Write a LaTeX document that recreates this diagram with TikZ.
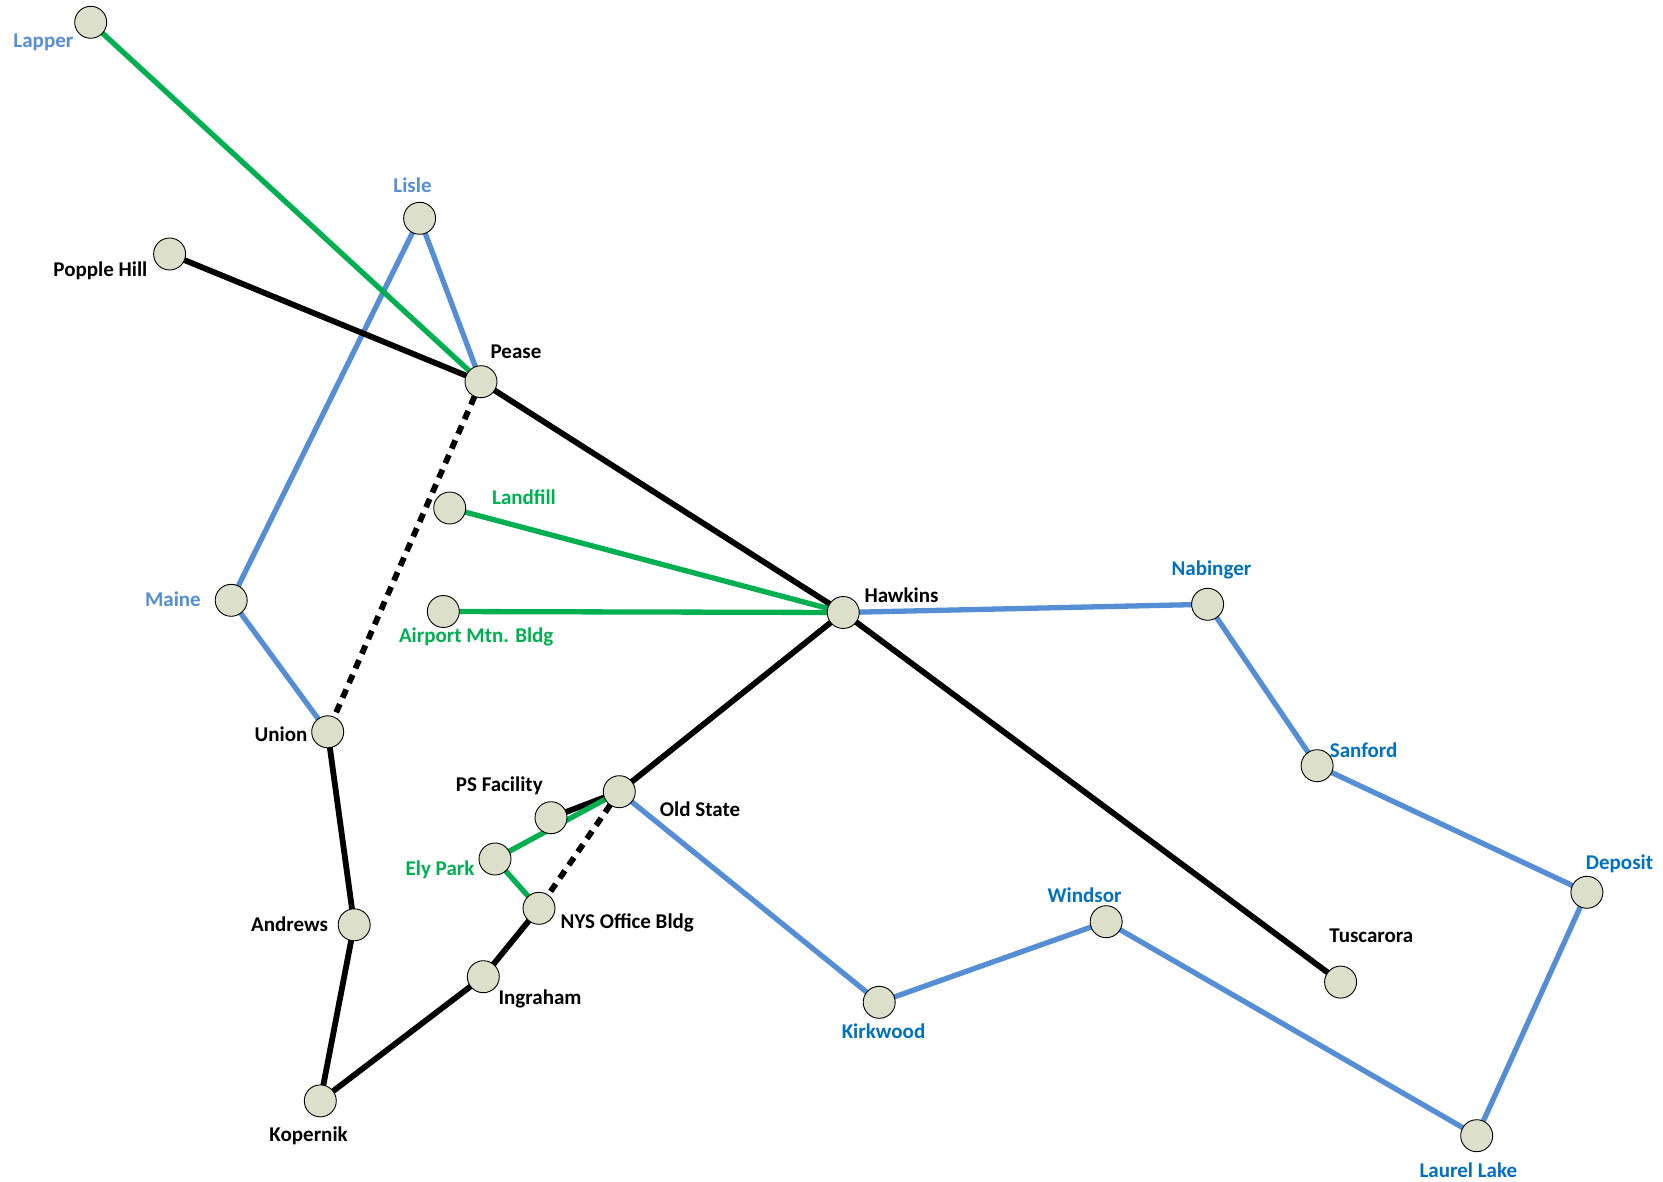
\documentclass[tikz,border=0pt]{standalone}
\usepackage{fontspec}
\setmainfont{Carlito}
\usetikzlibrary{backgrounds}
\definecolor{nodefill}{HTML}{DCDFCA}
\definecolor{lblue}{HTML}{558ED5}
\definecolor{dblue}{HTML}{0070C0}
\definecolor{lgreen}{HTML}{00B050}
\tikzset{
  site/.style={circle, draw=black, line width=0.9pt, fill=nodefill, minimum size=32pt, inner sep=0pt},
  lbl/.style={inner sep=0pt, anchor=center, font=\fontsize{21}{25}\selectfont\bfseries},
  blk/.style={line width=5.8pt, black},
  blkdash/.style={line width=5.8pt, black, dash pattern=on 9pt off 7pt},
  grn/.style={line width=5.3pt, lgreen},
  blu/.style={line width=5.3pt, lblue},
}
\begin{document}
\begin{tikzpicture}[x=1pt,y=-1pt]
\useasboundingbox (0,0) rectangle (1663,1182);
% sites
\node[site] (lapper) at (90.7,22.3) {};
\node[site] (lisle) at (419.6,218.3) {};
\node[site] (popple) at (169.6,254) {};
\node[site] (pease) at (481,381.7) {};
\node[site] (landfill) at (449.7,508) {};
\node[site] (maine) at (231.2,600.3) {};
\node[site] (airport) at (443.3,611.5) {};
\node[site] (hawkins) at (843.2,612.5) {};
\node[site] (nabinger) at (1207.6,604.3) {};
\node[site] (union) at (327.7,731.8) {};
\node[site] (sanford) at (1317.1,765.7) {};
\node[site] (oldstate) at (619.3,791.7) {};
\node[site] (psfac) at (551,817.7) {};
\node[site] (ely) at (495,859) {};
\node[site] (nys) at (539,908.3) {};
\node[site] (andrews) at (354.2,924.8) {};
\node[site] (deposit) at (1586.9,892.3) {};
\node[site] (windsor) at (1106.2,921.7) {};
\node[site] (ingraham) at (483.3,976.7) {};
\node[site] (tuscarora) at (1340.6,982.1) {};
\node[site] (kirkwood) at (879.2,1002.3) {};
\node[site] (kopernik) at (320.3,1100.9) {};
\node[site] (laurel) at (1476.7,1135.7) {};
% labels
\node[lbl, lblue] (tlapper) at (43.4,42) {Lapper};
\node[lbl, lblue] (tlisle) at (412.5,185.7) {Lisle};
\node[lbl] (tpopple) at (100.4,270.7) {Popple Hill};
\node[lbl] (tpease) at (516,351.7) {Pease};
\node[lbl, lgreen] (tlandfill) at (524,497.4) {Landfill};
\node[lbl, lblue] (tmaine) at (172.9,599.2) {Maine};
\node[lbl, lgreen] (tairport) at (476.2,636.5) {Airport Mtn. Bldg};
\node[lbl] (thawkins) at (901.5,595) {Hawkins};
\node[lbl, dblue] (tnabinger) at (1211.4,570) {Nabinger};
\node[lbl] (tunion) at (281,734) {Union};
\node[lbl, dblue] (tsanford) at (1363.6,750.7) {Sanford};
\node[lbl] (toldstate) at (700,809) {Old State};
\node[lbl] (tpsfac) at (499.3,786) {PS Facility};
\node[lbl, lgreen] (tely) at (440,870) {Ely Park};
\node[lbl] (tnys) at (627.3,922.7) {NYS Office Bldg};
\node[lbl] (tandrews) at (289.5,923.8) {Andrews};
\node[lbl, dblue] (tdeposit) at (1619.5,863.3) {Deposit};
\node[lbl, dblue] (twindsor) at (1084.6,895) {Windsor};
\node[lbl] (tingraham) at (540,999.3) {Ingraham};
\node[lbl] (ttuscarora) at (1371.4,935.4) {Tuscarora};
\node[lbl, dblue] (tkirkwood) at (883.5,1030.9) {Kirkwood};
\node[lbl] (tkopernik) at (308.6,1135.9) {Kopernik};
\node[lbl, dblue] (tlaurel) at (1468.3,1170) {Laurel Lake};
% connectors
\begin{pgfonlayer}{background}
\draw[blu] (lisle.center) -- (maine.center);
\draw[blu] (maine.center) -- (union.center);
\draw[blu] (lisle.center) -- (pease.center);
\draw[grn] (lapper.center) -- (pease.center);
\draw[blk] (popple.center) -- (pease.center);
\draw[blk] (pease.center) -- (hawkins.center);
\draw[blkdash] (pease.center) -- (union.center);
\draw[grn] (landfill.center) -- (hawkins.center);
\draw[grn] (airport.center) -- (hawkins.center);
\draw[blu] (hawkins.center) -- (nabinger.center);
\draw[blu] (nabinger.center) -- (sanford.center);
\draw[blu] (sanford.center) -- (deposit.center);
\draw[blu] (deposit.center) -- (laurel.center);
\draw[blu] (laurel.center) -- (windsor.center);
\draw[blu] (windsor.center) -- (kirkwood.center);
\draw[blu] (kirkwood.center) -- (oldstate.center);
\draw[blk] (hawkins.center) -- (tuscarora.center);
\draw[blk] (hawkins.center) -- (oldstate.center);
\draw[blk] (oldstate.center) -- (psfac.center);
\draw[grn] (oldstate.center) -- (ely.center);
\draw[grn] (ely.center) -- (nys.center);
\draw[blkdash] (oldstate.center) -- (nys.center);
\draw[blk] (nys.center) -- (ingraham.center);
\draw[blk] (ingraham.center) -- (kopernik.center);
\draw[blk] (kopernik.center) -- (andrews.center);
\draw[blk] (andrews.center) -- (union.center);
\end{pgfonlayer}
\end{tikzpicture}
\end{document}
